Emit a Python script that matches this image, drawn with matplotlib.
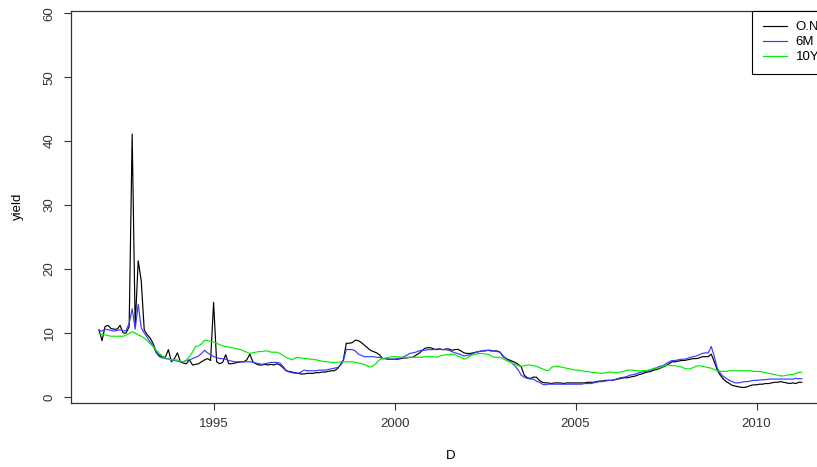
import matplotlib
matplotlib.use("Agg")
import matplotlib.pyplot as plt
import numpy as np
import pandas as pd

plt.rcParams['font.family'] = ['Liberation Sans', 'DejaVu Sans']

# monthly yields, Nov 1991 .. Apr 2011
on_rate = [
    10.5, 8.8,                                                         # 1991
    11.0, 11.2, 10.7, 10.6, 10.6, 11.2, 10.0, 10.0, 11.0, 41.1, 11.0, 21.3,  # 1992
    18.2, 10.5, 9.7, 9.2, 8.3, 7.0, 6.5, 6.3, 6.2, 7.4, 5.5, 6.0,      # 1993
    6.9, 5.5, 5.3, 5.2, 5.8, 5.0, 5.1, 5.2, 5.5, 5.8, 6.0, 5.7,        # 1994
    14.8, 5.5, 5.2, 5.4, 6.6, 5.2, 5.2, 5.3, 5.4, 5.5, 5.5, 5.8,       # 1995
    6.7, 5.5, 5.2, 5.0, 5.0, 5.1, 5.0, 5.1, 5.0, 5.2, 5.0, 4.6,        # 1996
    4.1, 4.0, 3.9, 3.8, 3.7, 3.6, 3.6, 3.7, 3.7, 3.7, 3.8, 3.8,        # 1997
    3.9, 3.9, 4.0, 4.1, 4.1, 4.4, 5.0, 5.8, 8.4, 8.4, 8.5, 8.9,        # 1998
    8.8, 8.5, 8.1, 7.7, 7.3, 7.1, 6.9, 6.6, 6.0, 6.0, 5.9, 5.9,        # 1999
    5.9, 5.9, 6.0, 6.1, 6.1, 6.2, 6.2, 6.5, 6.8, 7.2, 7.6, 7.7,        # 2000
    7.7, 7.5, 7.4, 7.5, 7.4, 7.5, 7.5, 7.3, 7.4, 7.45, 7.2, 6.9,       # 2001
    6.8, 6.8, 6.9, 7.0, 7.1, 7.2, 7.2, 7.3, 7.2, 7.2, 7.2, 7.0,        # 2002
    6.3, 6.0, 5.8, 5.6, 5.4, 5.1, 4.7, 3.4, 3.0, 2.9, 3.1, 3.1,        # 2003
    2.6, 2.3, 2.2, 2.2, 2.1, 2.2, 2.2, 2.2, 2.1, 2.2, 2.2, 2.2,        # 2004
    2.2, 2.2, 2.2, 2.2, 2.3, 2.3, 2.3, 2.4, 2.5, 2.5, 2.6, 2.6,        # 2005
    2.6, 2.7, 2.8, 2.9, 3.0, 3.0, 3.1, 3.2, 3.3, 3.5, 3.6, 3.8,        # 2006
    3.9, 4.0, 4.2, 4.3, 4.5, 4.7, 4.9, 5.2, 5.5, 5.5, 5.6, 5.7,        # 2007
    5.7, 5.8, 5.9, 6.0, 6.0, 6.1, 6.3, 6.3, 6.3, 6.7, 5.5, 4.2,        # 2008
    3.4, 2.8, 2.4, 2.1, 1.8, 1.7, 1.6, 1.5, 1.5, 1.6, 1.8, 1.9,        # 2009
    1.9, 2.0, 2.0, 2.1, 2.1, 2.2, 2.3, 2.3, 2.4, 2.3, 2.2, 2.1,        # 2010
    2.2, 2.1, 2.3, 2.3,                                                # 2011
]

m6_rate = [
    10.4, 10.3,
    10.6, 10.5, 10.4, 10.3, 10.4, 10.5, 10.3, 10.4, 11.5, 13.8, 10.6, 14.5,
    10.8, 10.0, 9.3, 8.6, 7.9, 6.9, 6.3, 6.1, 6.0, 6.0, 5.8, 5.7,
    5.6, 5.5, 5.5, 5.7, 5.8, 6.0, 6.2, 6.4, 6.8, 7.3, 6.9, 6.6,
    6.3, 6.2, 6.0, 6.0, 5.9, 5.7, 5.6, 5.5, 5.5, 5.5, 5.5, 5.5,
    5.5, 5.4, 5.3, 5.2, 5.1, 5.2, 5.3, 5.4, 5.4, 5.4, 5.3, 4.8,
    4.2, 3.9, 3.8, 3.7, 3.7, 3.9, 4.2, 4.1, 4.1, 4.1, 4.1, 4.2,
    4.2, 4.2, 4.3, 4.4, 4.5, 4.6, 4.9, 5.6, 7.45, 7.4, 7.4, 7.2,
    6.7, 6.5, 6.3, 6.3, 6.3, 6.3, 6.2, 6.2, 6.0, 6.0, 5.9, 5.9,
    5.9, 6.0, 6.1, 6.3, 6.5, 6.8, 6.9, 7.0, 7.2, 7.3, 7.3, 7.4,
    7.4, 7.4, 7.5, 7.5, 7.4, 7.4, 7.3, 7.1, 6.9, 6.8, 6.6, 6.4,
    6.5, 6.6, 6.8, 7.0, 7.1, 7.2, 7.3, 7.3, 7.3, 7.2, 7.1, 7.0,
    6.4, 6.0, 5.6, 5.3, 4.8, 4.2, 3.4, 3.1, 2.9, 2.8, 2.8, 2.5,
    2.3, 2.0, 1.9, 2.0, 2.0, 2.0, 2.0, 2.0, 2.0, 2.0, 2.0, 2.0,
    2.0, 2.0, 2.0, 2.1, 2.1, 2.1, 2.2, 2.3, 2.4, 2.4, 2.5, 2.6,
    2.6, 2.7, 2.9, 3.0, 3.1, 3.2, 3.4, 3.5, 3.6, 3.8, 3.9, 4.0,
    4.1, 4.2, 4.4, 4.6, 4.8, 4.9, 5.2, 5.5, 5.7, 5.7, 5.8, 5.9,
    5.9, 6.0, 6.2, 6.3, 6.4, 6.6, 6.8, 6.9, 6.9, 7.9, 6.3, 4.5,
    3.7, 3.2, 2.9, 2.6, 2.4, 2.2, 2.2, 2.3, 2.4, 2.4, 2.5, 2.6,
    2.6, 2.65, 2.7, 2.7, 2.8, 2.8, 2.8, 2.8, 2.8, 2.8, 2.8, 2.8,
    2.8, 2.9, 2.85, 2.85,
]

y10_rate = [
    9.95, 9.8,
    9.7, 9.6, 9.5, 9.5, 9.5, 9.5, 9.5, 9.7, 9.9, 10.2, 10.0, 9.7,
    9.5, 9.2, 8.8, 8.3, 7.9, 7.3, 6.8, 6.4, 6.0, 5.9, 5.8, 5.8,
    5.8, 5.6, 5.5, 5.8, 6.3, 7.0, 7.9, 8.0, 8.3, 8.9, 8.8, 8.7,
    8.6, 8.4, 8.2, 8.0, 7.9, 7.8, 7.7, 7.6, 7.5, 7.4, 7.2, 7.0,
    6.8, 6.9, 7.0, 7.1, 7.1, 7.2, 7.2, 7.0, 7.0, 7.0, 6.8, 6.5,
    6.2, 6.0, 5.8, 6.1, 6.2, 6.1, 6.0, 6.0, 5.9, 5.9, 5.8, 5.7,
    5.6, 5.5, 5.5, 5.4, 5.4, 5.4, 5.5, 5.5, 5.5, 5.5, 5.5, 5.4,
    5.3, 5.2, 5.1, 4.8, 4.7, 4.9, 5.3, 5.8, 6.0, 6.1, 6.2, 6.3,
    6.3, 6.3, 6.2, 6.2, 6.2, 6.2, 6.2, 6.2, 6.2, 6.2, 6.3, 6.3,
    6.3, 6.3, 6.2, 6.4, 6.5, 6.6, 6.6, 6.7, 6.6, 6.4, 6.2, 5.9,
    6.1, 6.4, 6.6, 6.7, 6.8, 6.8, 6.7, 6.7, 6.4, 6.2, 6.2, 6.2,
    6.0, 5.7, 5.5, 5.3, 5.1, 4.9, 4.8, 4.9, 5.0, 5.0, 4.9, 4.8,
    4.6, 4.4, 4.2, 4.1, 4.6, 4.8, 4.8, 4.7, 4.6, 4.5, 4.4, 4.3,
    4.2, 4.2, 4.1, 4.0, 4.0, 3.9, 3.8, 3.8, 3.7, 3.7, 3.8, 3.9,
    3.9, 3.8, 3.8, 3.9, 4.0, 4.2, 4.2, 4.2, 4.1, 4.1, 4.1, 4.1,
    4.2, 4.3, 4.5, 4.5, 4.6, 4.8, 4.9, 5.0, 4.9, 4.9, 4.8, 4.7,
    4.5, 4.4, 4.4, 4.6, 4.8, 4.9, 4.8, 4.7, 4.6, 4.5, 4.3, 4.1,
    4.0, 4.0, 4.0, 4.1, 4.1, 4.1, 4.1, 4.1, 4.1, 4.1, 4.1, 4.0,
    4.0, 4.0, 3.9, 3.8, 3.7, 3.6, 3.5, 3.4, 3.3, 3.3, 3.4, 3.5,
    3.5, 3.7, 3.85, 3.85,
]

labels = ["O.N", "6M", "10Y"]
colors = ["black", "#3a3aff", "#00ee00"]

dates = pd.date_range("1991-11-01", periods=len(on_rate), freq="MS")
D = dates.year + (dates.month - 1) / 12.0

fig = plt.figure(figsize=(8.17, 4.67), dpi=100)
# the plot box runs a little past the right edge, as in the original
ax = fig.add_axes([71 / 817, 64 / 467, 759 / 817, 392.4 / 467])

for vals, lab, col in zip([on_rate, m6_rate, y10_rate], labels, colors):
    ax.plot(D, vals, color=col, lw=0.85, label=lab)

ax.set_xlim(1991.06, 2012.03)
ax.set_ylim(-0.94, 60.4)
ax.set_xticks([1995, 2000, 2005, 2010])
ax.set_yticks([0, 10, 20, 30, 40, 50, 60])
ax.tick_params(axis='both', labelsize=9.5, length=5, width=0.8, colors='#333333')
ax.tick_params(axis='x', pad=6)
ax.tick_params(axis='y', pad=6)
for lbl in ax.get_yticklabels():
    lbl.set_rotation(90)
    lbl.set_va('center')
for sp in ax.spines.values():
    sp.set_linewidth(0.9)
    sp.set_color('#333333')

ax.set_xlabel("D", fontsize=9.5, labelpad=14)
ax.set_ylabel("yield", fontsize=9.5, labelpad=14)

leg = ax.legend(loc='upper right', borderaxespad=0, fancybox=False,
                edgecolor='black', framealpha=1, fontsize=9.5,
                handlelength=1.8, handletextpad=0.7, labelspacing=0.2,
                borderpad=0.8)
leg.get_frame().set_linewidth(0.8)

fig.savefig("out.png", dpi=100)
